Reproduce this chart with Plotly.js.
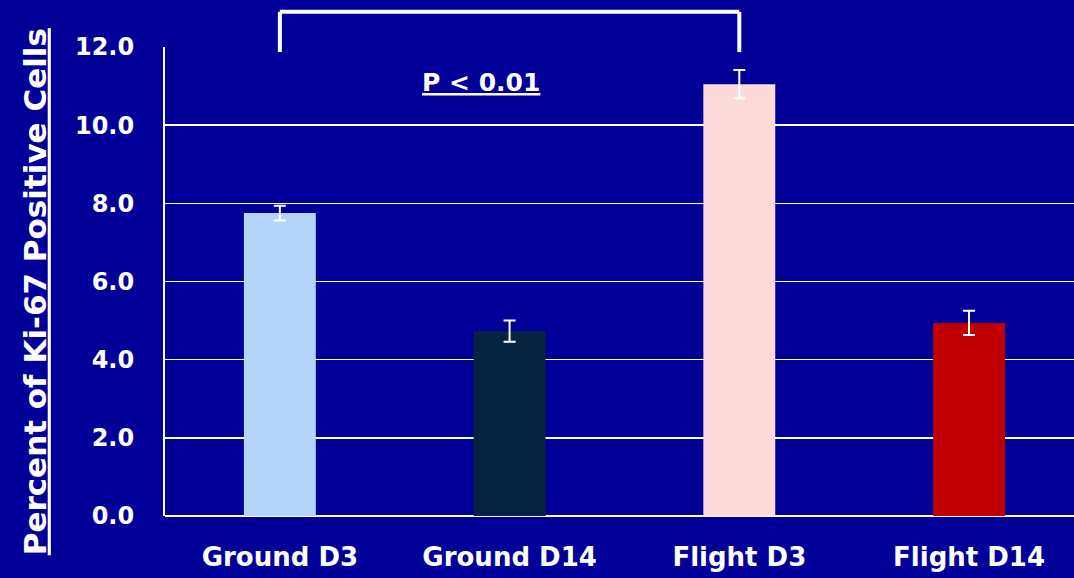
<!DOCTYPE html>
<html>
<head>
<meta charset="utf-8">
<script src="https://cdn.plot.ly/plotly-3.0.1.min.js"></script>
<style>html,body{margin:0;padding:0;background:#000099;}#chart{width:1074px;height:578px;}</style>
</head>
<body>
<div id="chart"></div>
<script>
const categories = ["Ground D3", "Ground D14", "Flight D3", "Flight D14"];
const values = [7.75, 4.73, 11.05, 4.94];
const errors = [0.19, 0.27, 0.36, 0.31];
const barColors = ["#B4D4F8", "#06233F", "#FCDADA", "#C00000"];
const yTicks = [0, 2, 4, 6, 8, 10, 12];
const yTickLabels = ["0.0", "2.0", "4.0", "6.0", "8.0", "10.0", "12.0"];
const yTitle = "Percent of Ki-67 Positive Cells";
const bracketFrom = 0, bracketTo = 2;
const bracketTop = 12.9, bracketEnd = 11.87;
const pLabel = "P < 0.01";

const FONT = "'DejaVu Sans', sans-serif";
const xRange = [-0.5, 3.457];
const yRange = [0, 12];
const px = v => (v - xRange[0]) / (xRange[1] - xRange[0]);
const py = v => (v - yRange[0]) / (yRange[1] - yRange[0]);

const trace = {
  type: "bar",
  x: categories.map((c, i) => i),
  y: values,
  marker: {color: barColors},
  width: 0.313,
  error_y: {type: "data", array: errors, visible: true, color: "#FFFFFF", thickness: 2, width: 6},
  hoverinfo: "none"
};

const bline = (x0, y0, x1, y1) => ({type: "line", xref: "paper", yref: "paper", x0: px(x0), x1: px(x1), y0: py(y0), y1: py(y1), line: {color: "#FFFFFF", width: 4}});

const layout = {
  width: 1074, height: 578,
  paper_bgcolor: "#000099",
  plot_bgcolor: "#000099",
  margin: {l: 165, r: 0, t: 47, b: 62},
  showlegend: false,
  xaxis: {
    range: xRange,
    tickvals: categories.map((c, i) => i),
    ticktext: categories.map(c => "<b>" + c + "</b>"),
    tickfont: {family: FONT, size: 26, color: "#FFFFFF"},
    ticks: "outside", ticklen: 18, tickcolor: "rgba(0,0,0,0)",
    showgrid: false, zeroline: false, showline: false
  },
  yaxis: {
    range: yRange,
    tickvals: yTicks,
    ticktext: yTickLabels.map(t => "<b>" + t + "</b>"),
    tickfont: {family: FONT, size: 24, color: "#FFFFFF"},
    ticks: "outside", ticklen: 24, tickcolor: "rgba(0,0,0,0)",
    showgrid: true, gridcolor: "#FFFFFF", gridwidth: 1.5,
    zeroline: true, zerolinecolor: "#FFFFFF", zerolinewidth: 2,
    showline: true, linecolor: "#FFFFFF", linewidth: 2
  },
  shapes: [
    bline(bracketFrom, bracketTop, bracketTo, bracketTop),
    bline(bracketFrom, bracketTop, bracketFrom, bracketEnd),
    bline(bracketTo, bracketTop, bracketTo, bracketEnd)
  ],
  annotations: [
    {xref: "x", yref: "y", x: (bracketFrom + bracketTo) / 2 - 0.125, y: 11.1, text: "<b><u>" + pLabel + "</u></b>", showarrow: false, font: {family: FONT, size: 25, color: "#FFFFFF"}},
    {xref: "paper", yref: "paper", x: -0.143, y: 0.477, xanchor: "center", yanchor: "middle", textangle: -90, showarrow: false,
     text: "<b><u>" + yTitle + "</u></b>", font: {family: FONT, size: 31, color: "#FFFFFF"}}
  ]
};

Plotly.newPlot("chart", [trace], layout, {displayModeBar: false, staticPlot: true});
</script>
</body>
</html>
